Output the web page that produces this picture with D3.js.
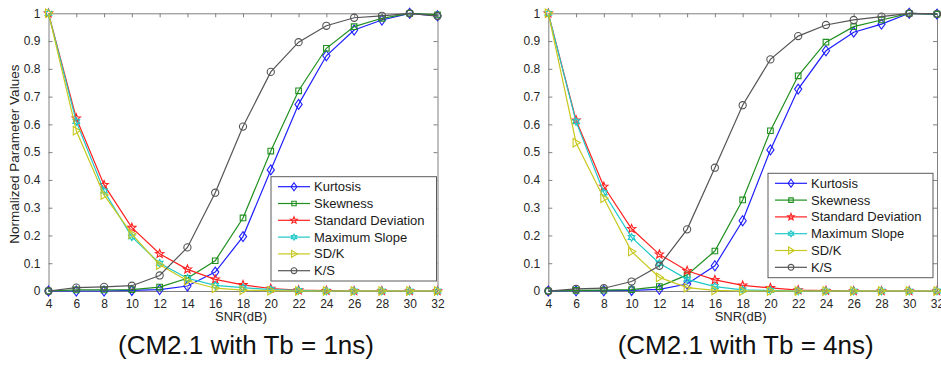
<!DOCTYPE html>
<html>
<head>
<meta charset="utf-8">
<script src="https://cdn.jsdelivr.net/npm/d3@7"></script>
<style>
  html, body { margin: 0; padding: 0; background: #fff; }
  svg { display: block; font-family: Arial, "Liberation Sans", sans-serif; }
</style>
</head>
<body>
<svg id="chart" width="941" height="365"></svg>
<script>
// SNR sweep (dB) shared by both panels
const snr = [4, 6, 8, 10, 12, 14, 16, 18, 20, 22, 24, 26, 28, 30, 32];
const xTickLabels = ["4", "6", "8", "10", "12", "14", "16", "18", "20", "22", "24", "26", "28", "30", "32"];
const yTickValues = [0, 0.1, 0.2, 0.3, 0.4, 0.5, 0.6, 0.7, 0.8, 0.9, 1];
const yTickLabels = ["0", "0.1", "0.2", "0.3", "0.4", "0.5", "0.6", "0.7", "0.8", "0.9", "1"];

const seriesNames = ["Kurtosis", "Skewness", "Standard Deviation", "Maximum Slope", "SD/K", "K/S"];
const panelCaptions = ["(CM2.1 with Tb = 1ns)", "(CM2.1 with Tb = 4ns)"];

// Tb = 1ns
const kurtosis1 = [0, 0, 0, 0.002, 0.005, 0.018, 0.068, 0.196, 0.436, 0.672, 0.847, 0.94, 0.976, 1, 0.991];
const skewness1 = [0, 0.004, 0.004, 0.005, 0.014, 0.046, 0.109, 0.263, 0.504, 0.721, 0.874, 0.952, 0.982, 1, 0.994];
const stdDev1   = [1, 0.622, 0.382, 0.228, 0.134, 0.078, 0.042, 0.022, 0.009, 0.003, 0.001, 0, 0, 0, 0];
const maxSlope1 = [1, 0.61, 0.36, 0.195, 0.1, 0.046, 0.02, 0.012, 0.005, 0.002, 0, 0, 0, 0, 0];
const sdk1      = [1, 0.577, 0.346, 0.205, 0.094, 0.037, 0.01, 0.003, 0.001, 0, 0, 0, 0, 0, 0];
const ks1       = [0, 0.012, 0.015, 0.019, 0.056, 0.157, 0.354, 0.592, 0.789, 0.896, 0.955, 0.984, 0.991, 1, 0.99];

// Tb = 4ns
const kurtosis4 = [0, 0.001, 0.001, 0.002, 0.006, 0.025, 0.091, 0.253, 0.508, 0.727, 0.865, 0.932, 0.961, 1, 0.997];
const skewness4 = [0, 0.002, 0.003, 0.005, 0.016, 0.058, 0.144, 0.328, 0.577, 0.775, 0.896, 0.952, 0.976, 1, 0.997];
const stdDev4   = [1, 0.615, 0.376, 0.224, 0.132, 0.073, 0.04, 0.02, 0.011, 0.003, 0.001, 0, 0, 0, 0];
const maxSlope4 = [1, 0.61, 0.354, 0.193, 0.1, 0.042, 0.016, 0.004, 0.002, 0, 0, 0, 0, 0, 0];
const sdk4      = [1, 0.534, 0.334, 0.142, 0.049, 0.012, 0.002, 0, 0, 0, 0, 0, 0, 0, 0];
const ks4       = [0, 0.008, 0.01, 0.034, 0.091, 0.222, 0.444, 0.669, 0.834, 0.918, 0.958, 0.976, 0.988, 1, 0.998];

const seriesColors = ["#1f1fff", "#1f8f1f", "#ff2020", "#1fc8c8", "#c8c81f", "#555555"];
const seriesMarkers = ["diamond", "square", "star", "hexagram", "triangleRight", "circle"];

const panels = [
  { data: [kurtosis1, skewness1, stdDev1, maxSlope1, sdk1, ks1], caption: panelCaptions[0],
    left: 48.5, right: 437.5, top: 13.3, bottom: 291, yLabel: true,
    legend: { x: 271, y: 176.7, w: 165.5, h: 104.3 } },
  { data: [kurtosis4, skewness4, stdDev4, maxSlope4, sdk4, ks4], caption: panelCaptions[1],
    left: 548.3, right: 937, top: 13.3, bottom: 291, yLabel: false,
    legend: { x: 768, y: 173.3, w: 165, h: 104.4 } }
];

const svg = d3.select("#chart");

function starPath(points, outer, inner) {
  const pts = [];
  for (let i = 0; i < points * 2; i++) {
    const r = i % 2 === 0 ? outer : inner;
    const a = -Math.PI / 2 + i * Math.PI / points;
    pts.push([r * Math.cos(a), r * Math.sin(a)]);
  }
  return "M" + pts.map(p => p[0].toFixed(2) + "," + p[1].toFixed(2)).join("L") + "Z";
}

function markerPath(kind, s) {
  switch (kind) {
    case "diamond": return `M0,${-5 * s}L${3.6 * s},0L0,${5 * s}L${-3.6 * s},0Z`;
    case "square": return `M${-2.8 * s},${-2.8 * s}H${2.8 * s}V${2.8 * s}H${-2.8 * s}Z`;
    case "star": return starPath(5, 4.4 * s, 1.9 * s);
    case "hexagram": return starPath(6, 3.8 * s, 2.1 * s);
    case "triangleRight": return `M${-3 * s},${-4.3 * s}L${4.2 * s},0L${-3 * s},${4.3 * s}Z`;
    case "circle": return d3.arc()({ innerRadius: 0, outerRadius: 3.6 * s, startAngle: 0, endAngle: 2 * Math.PI });
  }
}

panels.forEach(p => {
  const x = d3.scaleLinear().domain([4, 32]).range([p.left, p.right]);
  const y = d3.scaleLinear().domain([0, 1]).range([p.bottom, p.top]);
  const g = svg.append("g");

  // axes: ticks pointing inward, on all four sides
  const axisColor = "#808080";
  const tickFont = 12;
  const bottom = g.append("g").attr("transform", `translate(0,${p.bottom})`)
    .call(d3.axisBottom(x).tickValues(snr).tickFormat((d, i) => xTickLabels[i]).tickSizeInner(-4).tickSizeOuter(0).tickPadding(8));
  const top = g.append("g").attr("transform", `translate(0,${p.top})`)
    .call(d3.axisTop(x).tickValues(snr).tickFormat("").tickSizeInner(-4).tickSizeOuter(0));
  const leftAx = g.append("g").attr("transform", `translate(${p.left},0)`)
    .call(d3.axisLeft(y).tickValues(yTickValues).tickFormat((d, i) => yTickLabels[i]).tickSizeInner(-4).tickSizeOuter(0).tickPadding(8));
  const rightAx = g.append("g").attr("transform", `translate(${p.right},0)`)
    .call(d3.axisRight(y).tickValues(yTickValues).tickFormat("").tickSizeInner(-4).tickSizeOuter(0));
  [bottom, top, leftAx, rightAx].forEach(a => {
    a.select(".domain").attr("stroke", axisColor).attr("stroke-width", 1);
    a.selectAll(".tick line").attr("stroke", axisColor);
    a.selectAll("text").attr("fill", "#262626").style("font-size", tickFont + "px").style("font-family", "Arial, 'Liberation Sans', sans-serif");
  });

  // series lines and markers
  const line = d3.line().x((d, i) => x(snr[i])).y(d => y(d));
  p.data.forEach((vals, si) => {
    const col = seriesColors[si];
    g.append("path").datum(vals).attr("d", line)
      .attr("fill", "none").attr("stroke", col).attr("stroke-width", 1.2);
    g.selectAll(null).data(vals).enter().append("path")
      .attr("transform", (d, i) => `translate(${x(snr[i])},${y(d)})`)
      .attr("d", markerPath(seriesMarkers[si], 1))
      .attr("fill", "none").attr("stroke", col).attr("stroke-width", 1.1);
  });

  // legend
  const L = p.legend;
  const lg = g.append("g");
  lg.append("rect").attr("x", L.x).attr("y", L.y).attr("width", L.w).attr("height", L.h)
    .attr("fill", "#fff").attr("stroke", "#5a5a5a").attr("stroke-width", 1);
  const rowH = 16.8;
  seriesNames.forEach((name, si) => {
    const cy = L.y + 10 + si * rowH;
    const col = seriesColors[si];
    lg.append("line").attr("x1", L.x + 7).attr("x2", L.x + 39).attr("y1", cy).attr("y2", cy)
      .attr("stroke", col).attr("stroke-width", 1.2);
    lg.append("path").attr("transform", `translate(${L.x + 23},${cy})`)
      .attr("d", markerPath(seriesMarkers[si], 0.8))
      .attr("fill", "none").attr("stroke", col).attr("stroke-width", 1.1);
    lg.append("text").attr("x", L.x + 43).attr("y", cy).attr("dy", "0.35em")
      .attr("fill", "#1a1a1a").style("font-size", "13px").text(name);
  });

  // axis titles and caption
  const cx = (p.left + p.right) / 2;
  g.append("text").attr("x", cx - 2).attr("y", 321).attr("text-anchor", "middle")
    .attr("fill", "#262626").style("font-size", "13px").text("SNR(dB)");
  if (p.yLabel) {
    g.append("text").attr("transform", `translate(19,${(p.top + p.bottom) / 2 + 2}) rotate(-90)`)
      .attr("text-anchor", "middle").attr("fill", "#262626").style("font-size", "13.5px")
      .text("Normalized Parameter Values");
  }
  g.append("text").attr("x", cx + 3).attr("y", 354).attr("text-anchor", "middle")
    .attr("fill", "#111").style("font-size", "26px").text(p.caption);
});
</script>
</body>
</html>
